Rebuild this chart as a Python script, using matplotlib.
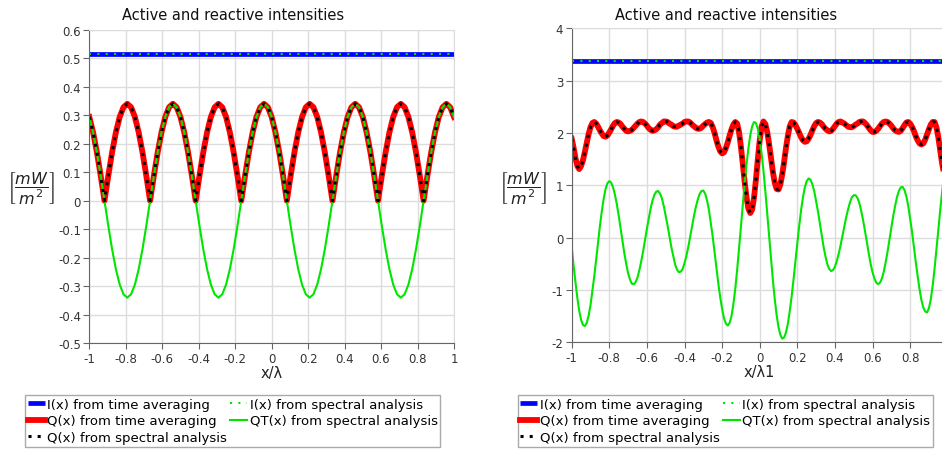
import numpy as np
import matplotlib
matplotlib.use('Agg')
import matplotlib.pyplot as plt
from matplotlib.ticker import FuncFormatter, MultipleLocator

plt.rcParams['font.family'] = ['DejaVu Sans']
plt.rcParams['axes.unicode_minus'] = False

# ---- data ----
# left panel: x/lambda from -1 to 1, 97 samples
x_left = np.linspace(-1, 1, 97)
I_left = 0.515
QT_left = [0.294, 0.240, 0.170, 0.088, 0.0, -0.088, -0.170, -0.240, -0.294, -0.328, -0.340, -0.328,
           -0.294, -0.240, -0.170, -0.088, 0.0, 0.088, 0.170, 0.240, 0.294, 0.328, 0.340, 0.328,
           0.294, 0.240, 0.170, 0.088, 0.0, -0.088, -0.170, -0.240, -0.294, -0.328, -0.340, -0.328,
           -0.294, -0.240, -0.170, -0.088, 0.0, 0.088, 0.170, 0.240, 0.294, 0.328, 0.340, 0.328,
           0.294, 0.240, 0.170, 0.088, 0.0, -0.088, -0.170, -0.240, -0.294, -0.328, -0.340, -0.328,
           -0.294, -0.240, -0.170, -0.088, 0.0, 0.088, 0.170, 0.240, 0.294, 0.328, 0.340, 0.328,
           0.294, 0.240, 0.170, 0.088, 0.0, -0.088, -0.170, -0.240, -0.294, -0.328, -0.340, -0.328,
           -0.294, -0.240, -0.170, -0.088, 0.0, 0.088, 0.170, 0.240, 0.294, 0.328, 0.340, 0.328,
           0.294]
Q_left = [0.294, 0.240, 0.170, 0.088, 0.0, 0.088, 0.170, 0.240, 0.294, 0.328, 0.340, 0.328,
          0.294, 0.240, 0.170, 0.088, 0.0, 0.088, 0.170, 0.240, 0.294, 0.328, 0.340, 0.328,
          0.294, 0.240, 0.170, 0.088, 0.0, 0.088, 0.170, 0.240, 0.294, 0.328, 0.340, 0.328,
          0.294, 0.240, 0.170, 0.088, 0.0, 0.088, 0.170, 0.240, 0.294, 0.328, 0.340, 0.328,
          0.294, 0.240, 0.170, 0.088, 0.0, 0.088, 0.170, 0.240, 0.294, 0.328, 0.340, 0.328,
          0.294, 0.240, 0.170, 0.088, 0.0, 0.088, 0.170, 0.240, 0.294, 0.328, 0.340, 0.328,
          0.294, 0.240, 0.170, 0.088, 0.0, 0.088, 0.170, 0.240, 0.294, 0.328, 0.340, 0.328,
          0.294, 0.240, 0.170, 0.088, 0.0, 0.088, 0.170, 0.240, 0.294, 0.328, 0.340, 0.328,
          0.294]
x_ticks_left = [-1, -0.8, -0.6, -0.4, -0.2, 0, 0.2, 0.4, 0.6, 0.8, 1]

# right panel: x/lambda1 from -1 to 0.98, step 0.01
x_right = np.linspace(-1, 0.98, 199)
I_right = 3.37
Q_right = [1.89, 1.72, 1.52, 1.37, 1.31, 1.37, 1.48, 1.64, 1.81, 1.98,
           2.11, 2.19, 2.21, 2.18, 2.12, 2.05, 1.99, 1.94, 1.93, 1.95,
           2.01, 2.07, 2.14, 2.19, 2.21, 2.20, 2.17, 2.12, 2.08, 2.04,
           2.03, 2.04, 2.06, 2.10, 2.14, 2.18, 2.21, 2.22, 2.21, 2.18,
           2.14, 2.09, 2.06, 2.04, 2.05, 2.07, 2.11, 2.16, 2.19, 2.22,
           2.22, 2.21, 2.18, 2.16, 2.13, 2.12, 2.12, 2.14, 2.16, 2.18,
           2.21, 2.22, 2.22, 2.20, 2.16, 2.13, 2.10, 2.08, 2.08, 2.10,
           2.14, 2.17, 2.20, 2.21, 2.19, 2.11, 2.00, 1.86, 1.74, 1.65,
           1.61, 1.63, 1.71, 1.82, 1.95, 2.07, 2.16, 2.21, 2.18, 2.02,
           1.74, 1.41, 1.06, 0.77, 0.55, 0.47, 0.54, 0.77, 1.11, 1.50,
           1.86, 2.12, 2.22, 2.17, 2.02, 1.79, 1.52, 1.26, 1.05, 0.93,
           0.92, 1.02, 1.21, 1.45, 1.72, 1.95, 2.13, 2.21, 2.20, 2.15,
           2.08, 2.00, 1.92, 1.86, 1.83, 1.84, 1.89, 1.96, 2.05, 2.13,
           2.19, 2.21, 2.20, 2.17, 2.12, 2.08, 2.05, 2.03, 2.04, 2.08,
           2.13, 2.18, 2.21, 2.22, 2.20, 2.18, 2.15, 2.12, 2.11, 2.11,
           2.13, 2.16, 2.18, 2.21, 2.22, 2.22, 2.19, 2.15, 2.10, 2.05,
           2.02, 2.02, 2.04, 2.08, 2.13, 2.18, 2.21, 2.22, 2.21, 2.18,
           2.14, 2.09, 2.05, 2.03, 2.02, 2.04, 2.09, 2.15, 2.20, 2.21,
           2.18, 2.12, 2.04, 1.94, 1.86, 1.80, 1.78, 1.80, 1.87, 1.97,
           2.07, 2.16, 2.21, 2.21, 2.11, 1.92, 1.67, 1.42, 1.23]
QT_right = [-0.18, -0.53, -0.85, -1.15, -1.40, -1.57, -1.67, -1.69, -1.63, -1.49,
            -1.29, -1.02, -0.74, -0.42, -0.09, 0.22, 0.50, 0.74, 0.93, 1.04,
            1.08, 1.05, 0.96, 0.82, 0.64, 0.42, 0.18, -0.06, -0.30, -0.50,
            -0.68, -0.80, -0.88, -0.89, -0.85, -0.76, -0.62, -0.45, -0.26, -0.04,
            0.17, 0.37, 0.56, 0.71, 0.82, 0.88, 0.89, 0.84, 0.75, 0.60,
            0.42, 0.23, 0.02, -0.18, -0.35, -0.51, -0.61, -0.66, -0.65, -0.60,
            -0.49, -0.35, -0.18, 0.01, 0.21, 0.41, 0.58, 0.72, 0.83, 0.89,
            0.90, 0.84, 0.71, 0.53, 0.28, 0.02, -0.28, -0.59, -0.88, -1.14,
            -1.36, -1.54, -1.64, -1.68, -1.63, -1.50, -1.27, -0.98, -0.62, -0.22,
            0.20, 0.62, 1.04, 1.40, 1.71, 1.96, 2.13, 2.21, 2.19, 2.08,
            1.89, 1.61, 1.28, 0.89, 0.46, 0.03, -0.40, -0.81, -1.17, -1.48,
            -1.71, -1.86, -1.93, -1.91, -1.81, -1.64, -1.40, -1.12, -0.80, -0.45,
            -0.11, 0.22, 0.52, 0.77, 0.96, 1.08, 1.13, 1.11, 1.02, 0.89,
            0.70, 0.50, 0.27, 0.04, -0.18, -0.36, -0.51, -0.60, -0.64, -0.62,
            -0.56, -0.45, -0.31, -0.15, 0.03, 0.22, 0.39, 0.54, 0.67, 0.77,
            0.81, 0.81, 0.76, 0.66, 0.51, 0.33, 0.13, -0.09, -0.30, -0.50,
            -0.66, -0.78, -0.86, -0.89, -0.86, -0.78, -0.65, -0.47, -0.27, -0.04,
            0.19, 0.41, 0.60, 0.77, 0.89, 0.96, 0.97, 0.91, 0.79, 0.61,
            0.37, 0.12, -0.17, -0.46, -0.73, -0.98, -1.19, -1.33, -1.41, -1.43,
            -1.35, -1.18, -0.92, -0.60, -0.24, 0.14, 0.52, 0.87, 1.18]
x_ticks_right = [-1, -0.8, -0.6, -0.4, -0.2, 0, 0.2, 0.4, 0.6, 0.8]

labels = ['I(x) from time averaging', 'I(x) from spectral analysis',
          'Q(x) from time averaging', 'QT(x) from spectral analysis',
          'Q(x) from spectral analysis']

BLUE = '#0000ff'
RED = '#ff0000'
GREEN = '#00e600'
GRID = '#dcdcdc'
W, H = 942, 452


def fmt(v, pos):
    v = round(v, 3)
    if v == 0:
        return '0'
    return f'{v:g}'


def draw_panel(ax, x, I, Q, QT, xticks, xlim, ylim, ystep, xlabel, legend_x):
    h1, = ax.plot(x, np.full(len(x), I), color=BLUE, lw=3.4, solid_capstyle='butt')
    h2, = ax.plot(x, np.full(len(x), I), color=GREEN, lw=1.5, linestyle=(0, (1, 3)))
    h3, = ax.plot(x, Q, color=RED, lw=4.2, solid_joinstyle='round')
    h4, = ax.plot(x, QT, color=GREEN, lw=1.5)
    h5, = ax.plot(x, Q, color='black', lw=2.2, linestyle=(0, (1, 2)))

    ax.set_xlim(*xlim)
    ax.set_ylim(*ylim)
    ax.set_xticks(xticks)
    ax.yaxis.set_major_locator(MultipleLocator(ystep))
    ax.xaxis.set_major_formatter(FuncFormatter(fmt))
    ax.yaxis.set_major_formatter(FuncFormatter(fmt))
    ax.grid(True, color=GRID, lw=1)
    ax.set_axisbelow(True)
    for s in ['top', 'right']:
        ax.spines[s].set_color(GRID)
    for s in ['left', 'bottom']:
        ax.spines[s].set_color('#666666')
    ax.tick_params(direction='out', length=4, color='#666666', labelsize=8.5,
                   labelcolor='#333333', pad=2)
    ax.set_xlabel(xlabel, fontsize=10.5, labelpad=0, color='#222222')

    handles = [h1, h3, h5, h2, h4]
    names = [labels[0], labels[2], labels[4], labels[1], labels[3]]
    leg = ax.legend(handles, names, loc='upper left',
                    bbox_to_anchor=(legend_x / W, 1 - 396 / H),
                    bbox_transform=ax.figure.transFigure, ncol=2, fontsize=9.5,
                    fancybox=False, edgecolor='#aaaaaa', framealpha=1,
                    borderpad=0.2, labelspacing=0.28, handlelength=1.3,
                    handletextpad=0.2, columnspacing=0.2, borderaxespad=0)
    leg.get_frame().set_linewidth(1.0)


fig = plt.figure(figsize=(W / 100, H / 100), dpi=100)

axL = fig.add_axes([89.3 / W, (H - 344.3) / H, (454 - 89.3) / W, (344.3 - 30.7) / H])
draw_panel(axL, x_left, I_left, Q_left, QT_left, x_ticks_left, (-1, 1), (-0.5, 0.6), 0.1,
           'x/λ', 25)

axR = fig.add_axes([571.7 / W, (H - 343.3) / H, 376 / W, (343.3 - 29.3) / H])
draw_panel(axR, x_right, I_right, Q_right, QT_right, x_ticks_right, (-1, 1), (-2, 4), 1,
           'x/λ1', 517.7)

ylab = r'$\left[\dfrac{mW}{m^{2}}\right]$'
fig.text(31 / W, 1 - 188 / H, ylab, ha='center', va='center', fontsize=11.5, color='#222222')
fig.text(523 / W, 1 - 188 / H, ylab, ha='center', va='center', fontsize=11.5, color='#222222')

fig.text(233 / W, 1 - 15 / H, 'Active and reactive intensities', ha='center', va='center',
         fontsize=10.5, color='#111111')
fig.text(726 / W, 1 - 15 / H, 'Active and reactive intensities', ha='center', va='center',
         fontsize=10.5, color='#111111')

fig.savefig('out.png', dpi=100)
